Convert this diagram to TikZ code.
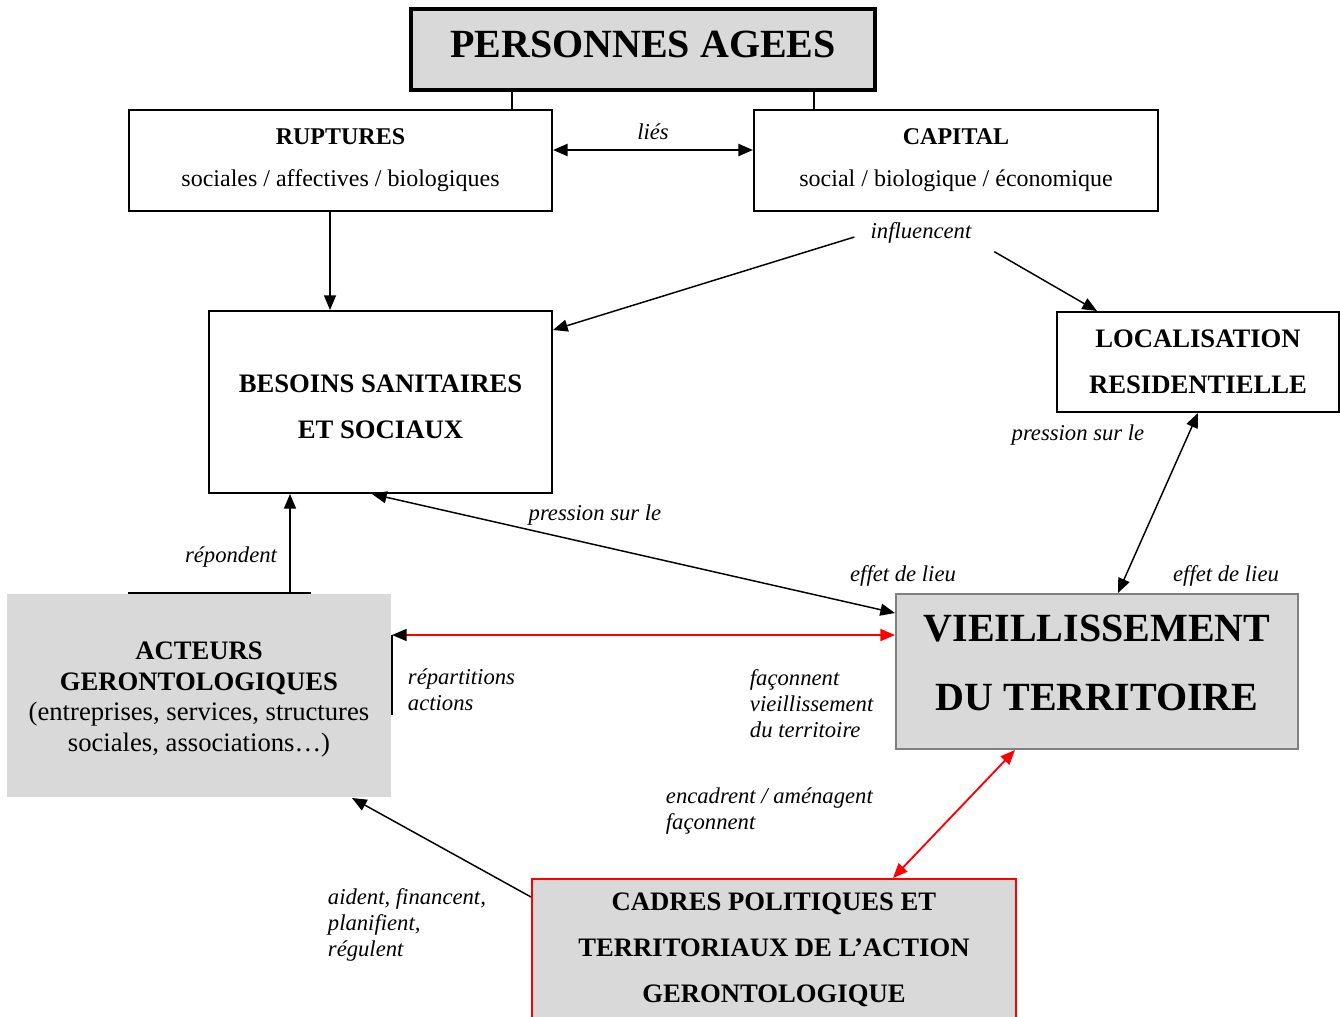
\documentclass[tikz,border=0pt]{standalone}
\usepackage{fontspec}
\setmainfont{Liberation Serif}
\usetikzlibrary{arrows.meta}
\definecolor{grisclair}{HTML}{D9D9D9}
\definecolor{grisbord}{HTML}{808080}
\tikzset{
  boite/.style={draw, line width=1.5pt, align=center, inner sep=0pt},
  grise/.style={fill=grisclair},
  texte/.style={align=center, inner sep=0pt},
  etiq/.style={font=\fontsize{17}{19.5}\selectfont\itshape, inner sep=2pt},
  fleche/.style={line width=1.1pt, -{Triangle[length=11pt,width=9pt]}},
  dfleche/.style={line width=1.1pt, {Triangle[length=11pt,width=9pt]}-{Triangle[length=11pt,width=9pt]}},
}
\begin{document}
\begin{tikzpicture}[x=0.75pt,y=-0.75pt]
  \useasboundingbox (0,0) rectangle (1340,1017);
  % les boites
  \node[boite, grise, line width=3pt, minimum width=348pt, minimum height=60.75pt,
    label={[texte, yshift=3.75pt, font=\fontsize{30}{36}\selectfont\bfseries]center:PERSONNES AGEES}]
    (pa) at (643,49.5) {};
  \node[boite, minimum width=317.25pt, minimum height=75.75pt,
    font=\fontsize{18}{31.5}\selectfont] (rup) at (340.5,160.5)
    {\textbf{RUPTURES}\\sociales / affectives / biologiques};
  \node[boite, minimum width=303pt, minimum height=75.75pt,
    font=\fontsize{18}{31.5}\selectfont] (cap) at (956,160.5)
    {\textbf{CAPITAL}\\social / biologique / économique};
  \node[boite, minimum width=257.25pt, minimum height=136.5pt,
    label={[texte, yshift=-3.5pt, font=\fontsize{20}{34.5}\selectfont\bfseries]center:BESOINS SANITAIRES\\ET SOCIAUX}]
    (bes) at (380.5,402) {};
  \node[boite, minimum width=211.5pt, minimum height=75pt,
    font=\fontsize{20}{34.5}\selectfont\bfseries] (loc) at (1198,362)
    {LOCALISATION\\RESIDENTIELLE};
  \node[boite, grise, draw=grisbord, minimum width=301.5pt, minimum height=116.25pt,
    label={[texte, yshift=6.75pt, font=\fontsize{30}{51.75}\selectfont\bfseries]center:VIEILLISSEMENT\\DU TERRITOIRE}]
    (vie) at (1097,671.5) {};
  \node[boite, grise, draw=none, minimum width=288pt, minimum height=152.25pt,
    label={[texte, yshift=-3pt, font=\fontsize{20}{23}\selectfont]center:\textbf{ACTEURS}\\\textbf{GERONTOLOGIQUES}\\(entreprises, services, structures\\sociales, associations…)}]
    (act) at (199,695.5) {};
  \node[boite, grise, draw=red, minimum width=363pt, minimum height=106.5pt,
    font=\fontsize{20}{34.5}\selectfont\bfseries] (cad) at (774,950)
    {CADRES POLITIQUES ET\\TERRITORIAUX DE L’ACTION\\GERONTOLOGIQUE};

  % les etiquettes
  \node[etiq] (lies) at (653,132) {liés};
  \node[etiq] (infl) at (921,233) {influencent};
  \node[etiq] (pres1) at (595,515) {pression sur le};
  \node[etiq] (pres2) at (1078,435) {pression sur le};
  \node[etiq] (eff1) at (903,576) {effet de lieu};
  \node[etiq] (eff2) at (1226,576) {effet de lieu};
  \node[etiq] (repo) at (231,557) {répondent};
  \node[etiq, anchor=west, align=left] (repa) at (405,689.5) {répartitions\\actions};
  \node[etiq, anchor=west, align=left] (faco) at (747,703.5) {façonnent\\vieillissement\\du territoire};
  \node[etiq, anchor=west, align=left] (enca) at (663,811) {encadrent / aménagent\\façonnent};
  \node[etiq, anchor=west, align=left] (aide) at (325,925) {aident, financent,\\planifient,\\régulent};

  % les liens
  \draw[line width=1.1pt] (512,0 |- pa.south) -- (512,0 |- rup.north);
  \draw[line width=1.1pt] (814,0 |- pa.south) -- (814,0 |- cap.north);
  \draw[dfleche, line width=1.8pt] (rup.east |- 0,150) -- (cap.west |- 0,150);
  \draw[fleche] (330,0 |- rup.south) -- (330,0 |- bes.north);
  \draw[fleche] ([xshift=-10pt,yshift=-3pt]infl.west) -- (bes.east |- 0,330);
  \draw[fleche] ([xshift=15pt,yshift=-4pt]infl.south east) -- (1097,0 |- loc.north);
  \draw[dfleche] (loc.south) -- (1118,0 |- vie.north);
  \draw[dfleche] (372,0 |- bes.south) -- (vie.west |- 0,613);
  \draw[line width=1.1pt] (128,0 |- act.north) -- (311,0 |- act.north);
  \draw[line width=1.1pt] (act.east |- 0,635) -- (act.east |- 0,715);
  \draw[fleche] (290,0 |- act.north) -- (290,0 |- bes.south);
  \draw[line width=1.3pt, red, {Triangle[length=11pt,width=9pt,black]}-{Triangle[length=11pt,width=9pt]}]
    (act.east |- 0,635) -- (vie.west |- 0,635);
  \draw[dfleche, red, line width=1.4pt] (1015,0 |- vie.south) -- (893,0 |- cad.north);
  \draw[fleche] (cad.west |- 0,897) -- (352,0 |- act.south);
\end{tikzpicture}
\end{document}
